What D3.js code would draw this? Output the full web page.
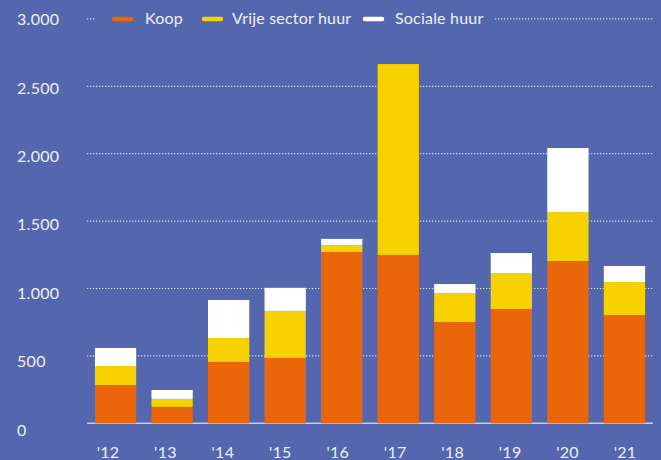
<!DOCTYPE html>
<html>
<head>
<meta charset="utf-8">
<script src="https://cdn.jsdelivr.net/npm/d3@7"></script>
<style>
  html, body { margin: 0; padding: 0; background: #5467ae; }
  svg { display: block; }
  text { font-family: Lato, "Open Sans", sans-serif; fill: #eef0f8; }
</style>
</head>
<body>
<svg id="chart" width="661" height="460"></svg>
<script>
// Woningbouw per jaar, naar segment
const years = ["'12", "'13", "'14", "'15", "'16", "'17", "'18", "'19", "'20", "'21"];
const koop = [284, 122, 455, 485, 1271, 1249, 751, 848, 1204, 803];
const vrijeSector = [141, 59, 178, 349, 52, 1416, 215, 267, 363, 245];
const sociaal = [134, 66, 282, 171, 45, 0, 67, 148, 475, 119];
const yTicks = [0, 500, 1000, 1500, 2000, 2500, 3000];
const seriesNames = ["Koop", "Vrije sector huur", "Sociale huur"];
const seriesKeys = ["koop", "vrije", "sociaal"];
const colors = ["#eb6608", "#f7d100", "#ffffff"];

const rows = years.map((y, i) => ({ year: y, koop: koop[i], vrije: vrijeSector[i], sociaal: sociaal[i] }));
const stacked = d3.stack().keys(seriesKeys)(rows);

const svg = d3.select("#chart");
const W = 661, H = 460;
svg.append("rect").attr("width", W).attr("height", H).attr("fill", "#5467ae");

const x = d3.scaleBand().domain(years).range([87, 653]).paddingInner(0.27).paddingOuter(0.14);
const y = d3.scaleLinear().domain([0, 3000]).range([423.3, 18.9]);
// label positions run on their own slightly wider scales
const yLabel = d3.scaleLinear().domain([0, 3000]).range([430, 19.5]);
const xLabel = d3.scalePoint().domain(years).range([108, 625]);

const fmt = v => d3.format(",")(v).replace(/,/g, ".");

// dotted gridlines
svg.append("g")
  .selectAll("line")
  .data(yTicks.filter(t => t > 0))
  .join("line")
  .attr("x1", 87).attr("x2", 653)
  .attr("y1", d => y(d)).attr("y2", d => y(d))
  .attr("stroke", "#ffffff")
  .attr("stroke-opacity", 0.75)
  .attr("stroke-width", 1.2)
  .attr("stroke-dasharray", "1.3,1.7");

// baseline
svg.append("line")
  .attr("x1", 87).attr("x2", 653)
  .attr("y1", y(0)).attr("y2", y(0))
  .attr("stroke", "#c6cbea").attr("stroke-width", 1.5);

// y labels
svg.append("g")
  .selectAll("text")
  .data(yTicks)
  .join("text")
  .attr("x", 17)
  .attr("y", d => yLabel(d))
  .attr("dy", "0.35em")
  .attr("font-size", 16)
  .attr("letter-spacing", 0.3)
  .text(d => fmt(d));

// stacked bars
svg.append("g")
  .selectAll("g")
  .data(stacked)
  .join("g")
  .attr("fill", (d, i) => colors[i])
  .selectAll("rect")
  .data(d => d)
  .join("rect")
  .attr("x", d => x(d.data.year))
  .attr("width", x.bandwidth())
  .attr("y", d => y(d[1]))
  .attr("height", d => y(d[0]) - y(d[1]));

// x labels
svg.append("g")
  .selectAll("text")
  .data(years)
  .join("text")
  .attr("x", d => xLabel(d))
  .attr("y", 452)
  .attr("dy", "0.35em")
  .attr("text-anchor", "middle")
  .attr("font-size", 16)
  .attr("letter-spacing", 0.3)
  .text(d => d);

// legend, with a panel that hides the top gridline behind it
const legend = svg.append("g");
legend.append("rect").attr("x", 95).attr("y", 8).attr("width", 400).attr("height", 22).attr("fill", "#5467ae");
const legendItems = [
  { lx: 112, tx: 145 },
  { lx: 202, tx: 232 },
  { lx: 363, tx: 395 }
];
legendItems.forEach((p, i) => {
  legend.append("line")
    .attr("x1", p.lx + 2).attr("x2", p.lx + 19)
    .attr("y1", 19).attr("y2", 19)
    .attr("stroke", colors[i]).attr("stroke-width", 4.5).attr("stroke-linecap", "round");
  legend.append("text")
    .attr("x", p.tx).attr("y", 18).attr("dy", "0.35em")
    .attr("font-size", 16)
    .attr("letter-spacing", 0.2)
    .text(seriesNames[i]);
});
</script>
</body>
</html>
